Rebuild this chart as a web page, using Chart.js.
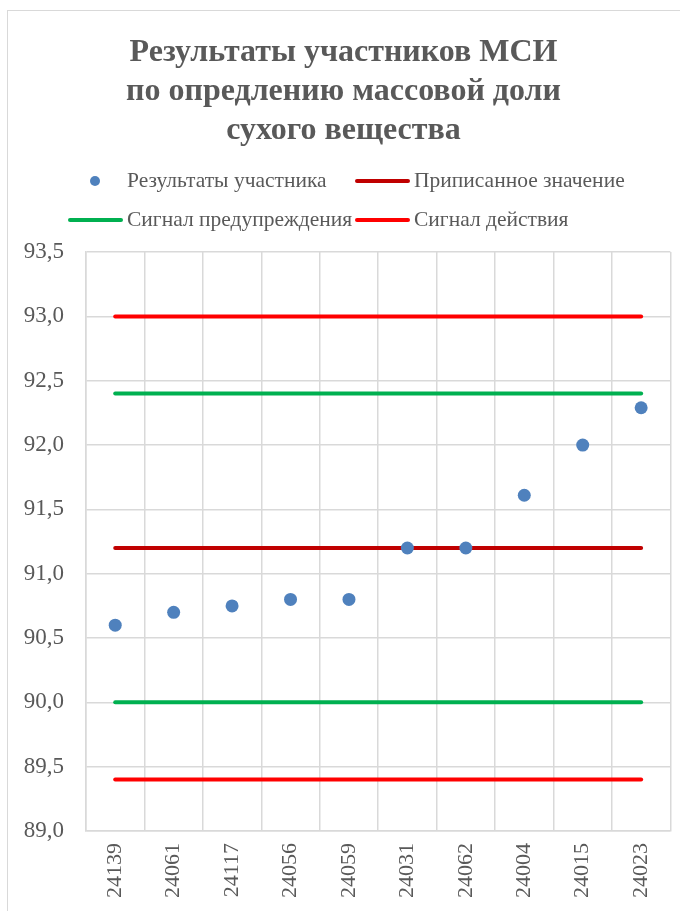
<!DOCTYPE html>
<html>
<head>
<meta charset="utf-8">
<script src="https://cdn.jsdelivr.net/npm/chart.js@4.4.0/dist/chart.umd.min.js"></script>
<style>
  html, body { margin: 0; padding: 0; background: #fff; }
  #wrap { position: relative; width: 680px; height: 911px; overflow: hidden; }
  #moldura { position: absolute; left: 7px; top: 10px; width: 700px; height: 940px; border: 1px solid #d9d9d9; box-sizing: border-box; }
  #grafico { position: absolute; left: 0; top: 0; }
</style>
</head>
<body>
<div id="wrap">
  <div id="moldura"></div>
  <canvas id="grafico" width="680" height="911"></canvas>
</div>
<script>
// Participant codes (x axis)
var codigos = ['24139', '24061', '24117', '24056', '24059', '24031', '24062', '24004', '24015', '24023'];

// Participant results
var resultados = [90.6, 90.7, 90.75, 90.8, 90.8, 91.2, 91.2, 91.61, 92.0, 92.29];

// Reference lines
var pripisannoe = [91.2, 91.2, 91.2, 91.2, 91.2, 91.2, 91.2, 91.2, 91.2, 91.2];
var preduprVerh = [92.4, 92.4, 92.4, 92.4, 92.4, 92.4, 92.4, 92.4, 92.4, 92.4];
var preduprNiz = [90.0, 90.0, 90.0, 90.0, 90.0, 90.0, 90.0, 90.0, 90.0, 90.0];
var deistviyaVerh = [93.0, 93.0, 93.0, 93.0, 93.0, 93.0, 93.0, 93.0, 93.0, 93.0];
var deistviyaNiz = [89.4, 89.4, 89.4, 89.4, 89.4, 89.4, 89.4, 89.4, 89.4, 89.4];

// Y axis tick values
var marcasY = [89.0, 89.5, 90.0, 90.5, 91.0, 91.5, 92.0, 92.5, 93.0, 93.5];

var titulo = ['Результаты участников МСИ', 'по опредлению массовой доли', 'сухого вещества'];

var corTexto = '#595959';
var corGrade = '#d9d9d9';

// Excel-like legend drawn in two aligned columns
var legendaExcel = {
  id: 'legendaExcel',
  afterDraw: function (chart) {
    var ctx = chart.ctx;
    var itens = [
      { ds: 0, x: 68, y: 181 },
      { ds: 1, x: 355, y: 181 },
      { ds: 2, x: 68, y: 220 },
      { ds: 4, x: 355, y: 220 }
    ];
    ctx.save();
    ctx.font = '21.5px "Liberation Serif"';
    ctx.textBaseline = 'middle';
    itens.forEach(function (item) {
      var ds = chart.data.datasets[item.ds];
      if (ds.showLine === false) {
        ctx.fillStyle = ds.backgroundColor;
        ctx.beginPath();
        ctx.arc(item.x + 27, item.y, 5, 0, Math.PI * 2);
        ctx.fill();
      } else {
        ctx.strokeStyle = ds.borderColor;
        ctx.lineWidth = 4;
        ctx.lineCap = 'round';
        ctx.beginPath();
        ctx.moveTo(item.x + 2, item.y);
        ctx.lineTo(item.x + 53, item.y);
        ctx.stroke();
      }
      ctx.fillStyle = corTexto;
      ctx.fillText(ds.label, item.x + 59, item.y);
    });
    ctx.restore();
  }
};

function linha(rotulo, cor, dados) {
  return {
    type: 'line',
    label: rotulo,
    data: dados,
    borderColor: cor,
    backgroundColor: cor,
    borderWidth: 4,
    borderCapStyle: 'round',
    pointRadius: 0,
    fill: false,
    tension: 0,
    order: 1
  };
}

Chart.defaults.font.family = '"Liberation Serif", "Times New Roman", serif';

new Chart(document.getElementById('grafico').getContext('2d'), {
  type: 'line',
  data: {
    labels: codigos,
    datasets: [
      {
        label: 'Результаты участника',
        data: resultados,
        showLine: false,
        pointRadius: 6.5,
        pointHoverRadius: 6.5,
        pointBorderWidth: 0,
        backgroundColor: '#4f81bd',
        borderColor: '#4f81bd',
        order: 0
      },
      linha('Приписанное значение', '#c00000', pripisannoe),
      linha('Сигнал предупреждения', '#00b050', preduprVerh),
      linha('Сигнал предупреждения', '#00b050', preduprNiz),
      linha('Сигнал действия', '#ff0000', deistviyaVerh),
      linha('Сигнал действия', '#ff0000', deistviyaNiz)
    ]
  },
  options: {
    responsive: false,
    animation: false,
    layout: { padding: { left: 7, right: 0, top: 0, bottom: 0 } },
    plugins: {
      legend: { display: false },
      tooltip: { enabled: false },
      title: {
        display: true,
        text: titulo,
        color: corTexto,
        font: { size: 32, weight: 'bold', lineHeight: 1.22 },
        padding: { top: 33, bottom: 102 }
      }
    },
    scales: {
      x: {
        offset: true,
        grid: { offset: true, color: corGrade, lineWidth: 1.5, drawTicks: false },
        border: { color: corGrade, width: 1.5 },
        ticks: { color: corTexto, font: { size: 22 }, minRotation: 90, maxRotation: 90, padding: 12, autoSkip: false },
        afterFit: function (scale) { scale.height = 80; }
      },
      y: {
        min: marcasY[0],
        max: marcasY[marcasY.length - 1],
        grid: { color: corGrade, lineWidth: 1.5, drawTicks: false },
        border: { color: corGrade, width: 1.5 },
        ticks: {
          color: corTexto,
          font: { size: 23 },
          padding: 22,
          callback: function (v) { return v.toFixed(1).replace('.', ','); }
        },
        afterBuildTicks: function (scale) {
          scale.ticks = marcasY.map(function (v) { return { value: v }; });
        },
        afterFit: function (scale) { scale.width = 79; }
      },
      y2: {
        position: 'right',
        display: true,
        grid: { display: false },
        border: { display: false },
        ticks: { display: false },
        afterFit: function (scale) { scale.width = 9; }
      }
    }
  },
  plugins: [legendaExcel]
});
</script>
</body>
</html>
